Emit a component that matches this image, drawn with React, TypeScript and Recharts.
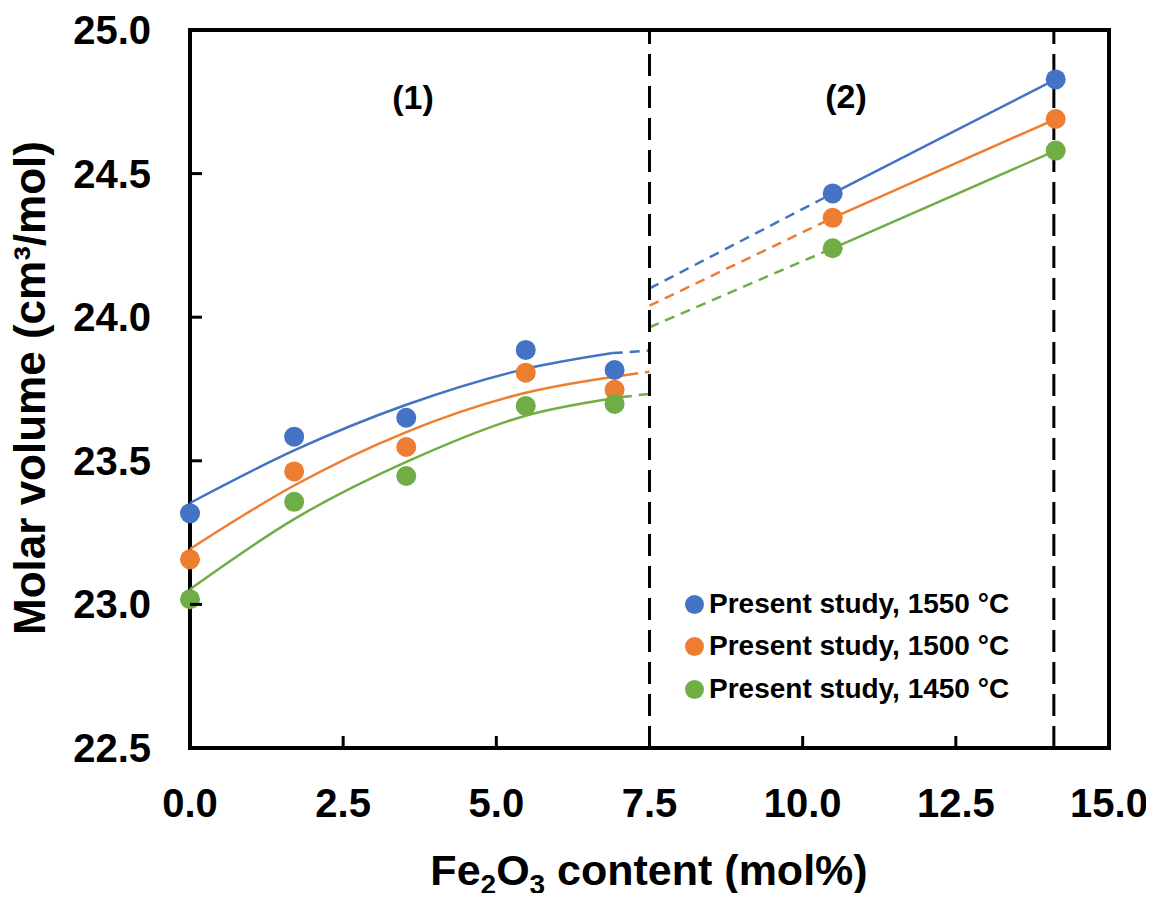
import React from 'react';
import { ComposedChart, Line, Scatter, XAxis, YAxis, ReferenceLine, ReferenceArea } from 'recharts';

const BLUE = '#4472C4';
const ORANGE = '#ED7D31';
const GREEN = '#70AD47';
const FONT = '"Liberation Sans", Arial, sans-serif';

// measured points (mol% Fe2O3 vs molar volume)
const feContent = [0, 1.7, 3.53, 5.48, 6.93, 10.49, 14.13];
const vol1550 = [23.317, 23.584, 23.65, 23.886, 23.816, 24.431, 24.828];
const vol1500 = [23.157, 23.463, 23.548, 23.807, 23.747, 24.346, 24.69];
const vol1450 = [23.018, 23.357, 23.447, 23.691, 23.698, 24.24, 24.58];

// region (1) fitted curves
const fit1550X = [0, 1.7, 3.53, 5.48, 6.9];
const fit1550Y = [23.353, 23.536, 23.695, 23.82, 23.875];
const ext1550X = [6.9, 7.5];
const ext1550Y = [23.875, 23.884];

const fit1500X = [0, 1.7, 3.53, 5.48, 7.15];
const fit1500Y = [23.193, 23.414, 23.6, 23.737, 23.8];
const ext1500X = [7.15, 7.5];
const ext1500Y = [23.8, 23.81];

const fit1450X = [0, 1.7, 3.53, 5.48, 7.05];
const fit1450Y = [23.053, 23.297, 23.496, 23.657, 23.722];
const ext1450X = [7.05, 7.5];
const ext1450Y = [23.722, 23.733];

// region (2) straight lines: 7.5 -> first point (dashed), then solid
const lin1550Y = [24.1, 24.431, 24.828];
const lin1500Y = [24.04, 24.346, 24.69];
const lin1450Y = [23.965, 24.24, 24.58];
const linX = [7.5, 10.49, 14.13];

const xTicks = [0, 2.5, 5, 7.5, 10, 12.5, 15];
const yTicks = [22.5, 23, 23.5, 24, 24.5, 25];
const boundaries = [7.5, 14.1];

const zip = (xs: number[], ys: number[]) => xs.map((x, i) => ({ x, y: ys[i] }));

const series = [
  { name: 'Present study, 1550 °C', color: BLUE, vals: vol1550, fx: fit1550X, fy: fit1550Y, ex: ext1550X, ey: ext1550Y, ly: lin1550Y },
  { name: 'Present study, 1500 °C', color: ORANGE, vals: vol1500, fx: fit1500X, fy: fit1500Y, ex: ext1500X, ey: ext1500Y, ly: lin1500Y },
  { name: 'Present study, 1450 °C', color: GREEN, vals: vol1450, fx: fit1450X, fy: fit1450Y, ex: ext1450X, ey: ext1450Y, ly: lin1450Y },
];

const XTick = ({ x, y, payload }: any) => (
  <g>
    <line x1={x} x2={x} y1={y} y2={y - 12} stroke="#000" strokeWidth={3} />
    <text x={x} y={y + 69} textAnchor="middle" fontSize={40} fontWeight="bold" fontFamily={FONT} fill="#000">
      {Number(payload.value).toFixed(1)}
    </text>
  </g>
);

const YTick = ({ x, y, payload }: any) => (
  <g>
    <line x1={x} x2={x + 12} y1={y} y2={y} stroke="#000" strokeWidth={3} />
    <text x={x - 39} y={y + 14} textAnchor="end" fontSize={40} fontWeight="bold" fontFamily={FONT} fill="#000">
      {Number(payload.value).toFixed(1)}
    </text>
  </g>
);

const txt: React.CSSProperties = { position: 'absolute', fontFamily: FONT, fontWeight: 'bold', color: '#000', whiteSpace: 'nowrap' };

// wrapper cancels the body margin so everything below is in page pixels
export default function App() {
  return (
    <div style={{ position: 'relative', width: 1154, height: 893, marginLeft: -8, marginTop: -8, fontFamily: FONT }}>
      <ComposedChart width={1154} height={893} margin={{ top: 30, right: 45, left: 90, bottom: 45 }}>
        <XAxis dataKey="x" type="number" domain={[0, 15]} ticks={xTicks} height={100}
          tickSize={0} tickMargin={0} tickLine={false} axisLine={false} tick={<XTick />} interval={0} />
        <YAxis type="number" domain={[22.5, 25]} ticks={yTicks} width={100}
          tickSize={0} tickMargin={0} tickLine={false} axisLine={false} tick={<YTick />} interval={0} />
        <ReferenceArea x1={0} x2={15} y1={22.5} y2={25} fill="none" stroke="#000" strokeWidth={4} fillOpacity={0} />
        {series.map((s) => (
          <Line key={s.name + 'fit'} data={zip(s.fx, s.fy)} dataKey="y" type="monotone" stroke={s.color}
            strokeWidth={2.5} dot={false} activeDot={false} isAnimationActive={false} legendType="none" />
        ))}
        {series.map((s) => (
          <Line key={s.name + 'ext'} data={zip(s.ex, s.ey)} dataKey="y" type="linear" stroke={s.color}
            strokeWidth={2.5} strokeDasharray="10 7" dot={false} activeDot={false} isAnimationActive={false} legendType="none" />
        ))}
        {series.map((s) => (
          <Line key={s.name + 'dash2'} data={zip(linX.slice(0, 2), s.ly.slice(0, 2))} dataKey="y" type="linear" stroke={s.color}
            strokeWidth={2.5} strokeDasharray="10 7" dot={false} activeDot={false} isAnimationActive={false} legendType="none" />
        ))}
        {series.map((s) => (
          <Line key={s.name + 'lin2'} data={zip(linX.slice(1), s.ly.slice(1))} dataKey="y" type="linear" stroke={s.color}
            strokeWidth={2.5} dot={false} activeDot={false} isAnimationActive={false} legendType="none" />
        ))}
        {series.map((s) => (
          <Scatter key={s.name} name={s.name} data={zip(feContent, s.vals)} dataKey="y" fill={s.color} isAnimationActive={false}
            shape={(p: any) => <circle cx={p.cx} cy={p.cy} r={10} fill={s.color} />} />
        ))}
        {boundaries.map((b) => (
          <ReferenceLine key={b} x={b} stroke="#000" strokeWidth={3} strokeDasharray="22 10" />
        ))}
      </ComposedChart>

      <div style={{ ...txt, fontSize: 34, left: 413 - 80, width: 160, textAlign: 'center', top: 97 - 17, lineHeight: '34px' }}>(1)</div>
      <div style={{ ...txt, fontSize: 34, left: 846 - 80, width: 160, textAlign: 'center', top: 96 - 17, lineHeight: '34px' }}>(2)</div>

      {series.map((s, i) => (
        <div key={s.name} style={{ position: 'absolute', left: 685, top: [604, 646, 689][i] - 15, height: 30, display: 'flex', alignItems: 'center' }}>
          <span style={{ width: 19, height: 19, borderRadius: '50%', background: s.color, display: 'inline-block', marginRight: 5 }} />
          <span style={{ fontFamily: FONT, fontWeight: 'bold', fontSize: 28, lineHeight: '30px', color: '#000', whiteSpace: 'nowrap' }}>{s.name}</span>
        </div>
      ))}

      <div style={{ ...txt, fontSize: 43, lineHeight: '43px', left: 649 - 300, width: 600, textAlign: 'center', top: 870 - 21 }}>
        Fe<sub style={{ fontSize: 28, verticalAlign: -9, lineHeight: 0 }}>2</sub>O<sub style={{ fontSize: 28, verticalAlign: -9, lineHeight: 0 }}>3</sub> content (mol%)
      </div>
      <div style={{ ...txt, fontSize: 44, lineHeight: '44px', left: 30 - 300, width: 600, textAlign: 'center', top: 388 - 22, transform: 'rotate(-90deg)' }}>
        Molar volume (cm³/mol)
      </div>
    </div>
  );
}
